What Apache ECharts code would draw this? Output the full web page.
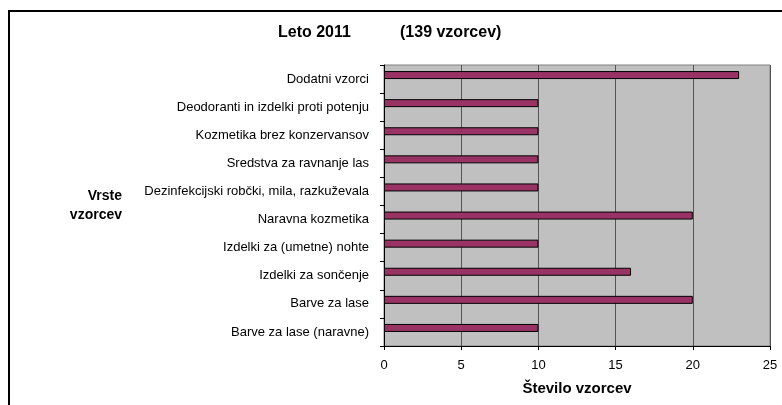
<!DOCTYPE html>
<html>
<head>
<meta charset="utf-8">
<script src="https://cdn.jsdelivr.net/npm/echarts@6/dist/echarts.min.js"></script>
<style>
  html, body { margin: 0; padding: 0; background: #fff; }
  #main { width: 782px; height: 405px; }
</style>
</head>
<body>
<div id="main"></div>
<script>
// vrste vzorcev, od zgoraj navzdol
const categories = [
    'Dodatni vzorci',
    'Deodoranti in izdelki proti potenju',
    'Kozmetika brez konzervansov',
    'Sredstva za ravnanje las',
    'Dezinfekcijski robčki, mila, razkuževala',
    'Naravna kozmetika',
    'Izdelki za (umetne) nohte',
    'Izdelki za sončenje',
    'Barve za lase',
    'Barve za lase (naravne)'
];
const counts = [23, 10, 10, 10, 10, 20, 10, 16, 20, 10];
// druga serija v originalu je prazna
const emptySeries = [null, null, null, null, null, null, null, null, null, null];
const xTicks = [0, 5, 10, 15, 20, 25];

const font = "'Liberation Sans', Arial, sans-serif";
const chart = echarts.init(document.getElementById('main'));

const option = {
    backgroundColor: '#ffffff',
    animation: false,
    title: {
        left: 273,
        top: 20,
        text: '{a|Leto 2011}{b|(139 vzorcev)}',
        textStyle: {
            rich: {
                a: { fontFamily: font, fontWeight: 'bold', fontSize: 16, color: '#000', width: 122 },
                b: { fontFamily: font, fontWeight: 'bold', fontSize: 16, color: '#000' }
            }
        }
    },
    graphic: [{
        type: 'rect',
        shape: { x: 9, y: 11, width: 800, height: 420 },
        style: { fill: 'none', stroke: '#000', lineWidth: 2 },
        silent: true
    }],
    grid: {
        left: 384,
        right: 12,
        top: 65,
        bottom: 59,
        show: true,
        backgroundColor: '#c0c0c0',
        borderColor: '#808080',
        borderWidth: 1
    },
    xAxis: {
        type: 'value',
        min: xTicks[0],
        max: xTicks[xTicks.length - 1],
        interval: 5,
        name: 'Število vzorcev',
        nameLocation: 'middle',
        nameGap: 35,
        nameTextStyle: { fontFamily: font, fontWeight: 'bold', fontSize: 15, color: '#000' },
        axisLine: { show: true, lineStyle: { color: '#000', width: 1 } },
        axisTick: { show: true, inside: false, length: 4, lineStyle: { color: '#000' } },
        axisLabel: { fontFamily: font, fontSize: 13, color: '#000', margin: 13 },
        splitLine: { show: true, lineStyle: { color: '#555', width: 1 } }
    },
    yAxis: {
        type: 'category',
        data: categories,
        inverse: true,
        name: 'Vrste\nvzorcev',
        nameLocation: 'middle',
        nameRotate: 0,
        nameGap: 262,
        nameTextStyle: { fontFamily: font, fontWeight: 'bold', fontSize: 14, color: '#000', lineHeight: 19, align: 'right' },
        axisLine: { show: true, lineStyle: { color: '#000', width: 1 } },
        axisTick: { show: true, inside: false, length: 4, alignWithLabel: false, lineStyle: { color: '#000' } },
        axisLabel: { fontFamily: font, fontSize: 13, color: '#000', margin: 15 },
        splitLine: { show: false }
    },
    series: [{
        name: 'Leto 2011',
        type: 'bar',
        data: counts,
        barWidth: 8,
        barGap: '0%',
        itemStyle: { color: '#993366', borderColor: '#000', borderWidth: 1 }
    }, {
        name: 'prazno',
        type: 'bar',
        data: emptySeries,
        barWidth: 8,
        barGap: '0%'
    }]
};

chart.setOption(option);
</script>
</body>
</html>
